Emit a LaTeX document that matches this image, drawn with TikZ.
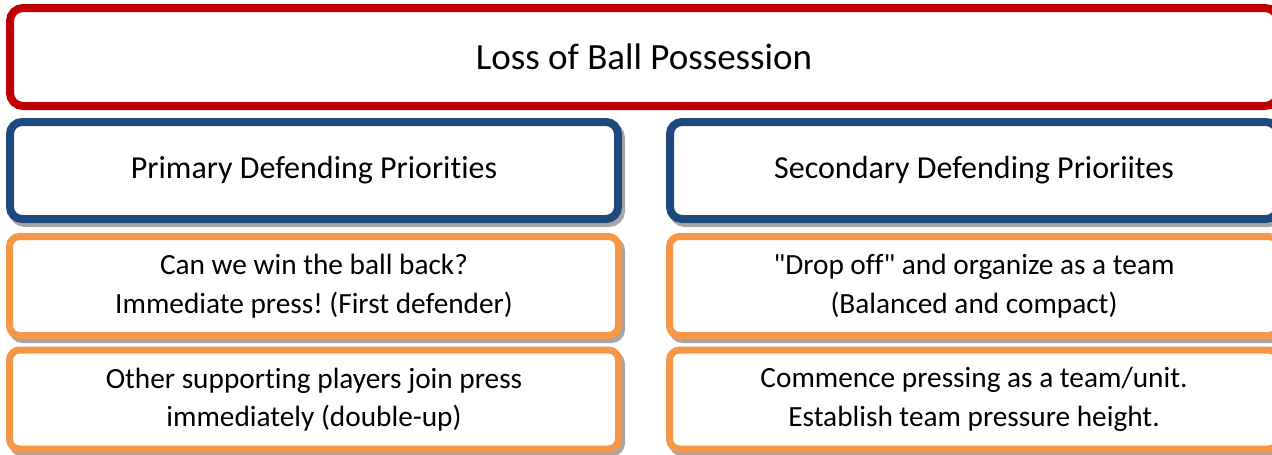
\documentclass[tikz,border=0pt]{standalone}
\usepackage{fontspec}
\setmainfont{Carlito}[Ligatures={TeXOff,NoCommon}]
\frenchspacing
\definecolor{ballred}{HTML}{C00000}
\definecolor{defblue}{HTML}{1F497D}
\definecolor{steporange}{HTML}{F79646}
\definecolor{shadowgray}{HTML}{A6A6A6}
\tikzset{
  x=1pt, y=-1pt,
  panel/.style={draw, fill=white, rounded corners=#1, inner sep=0pt, align=center, text=black},
  shadowed/.style={preaction={draw=shadowgray, line width=#1, transform canvas={xshift=3pt, yshift=-4pt}}},
  titlebox/.style={panel=13pt, draw=ballred, line width=8pt, minimum width=1268pt, minimum height=98pt,
    font=\fontsize{37}{44}\selectfont},
  headbox/.style={panel=12pt, draw=defblue, line width=8pt, shadowed=8pt, minimum width=608pt, minimum height=97pt,
    font=\fontsize{32}{38}\selectfont},
  itembox/.style={panel=10pt, draw=steporange, line width=7pt, shadowed=7pt, minimum width=609pt, minimum height=99pt,
    font=\fontsize{29.3}{38.5}\selectfont},
}
\begin{document}
\begin{tikzpicture}
\useasboundingbox (0,0) rectangle (1272,455);
\clip (0,0) rectangle (1272,455);
% heading across both columns
\node[titlebox] (loss) at (644,57) {Loss of Ball Possession};
% left column
\node[headbox] (primary) at (314,170.5) {Primary Defending Priorities};
\node[itembox] (winback) at (314,286) {Can we win the ball back?\\Immediate press! (First defender)};
\node[itembox] (support) at (314,399.5) {Other supporting players join press\\immediately (double-up)};
% right column
\node[headbox] (secondary) at (974,170.5) {Secondary Defending Prioriites};
\node[itembox] (dropoff) at (974,286) {"Drop off" and organize as a team\\(Balanced and compact)};
\node[itembox] (commence) at (974,399.5) {Commence pressing as a team/unit.\\Establish team pressure height.};
\end{tikzpicture}
\end{document}
